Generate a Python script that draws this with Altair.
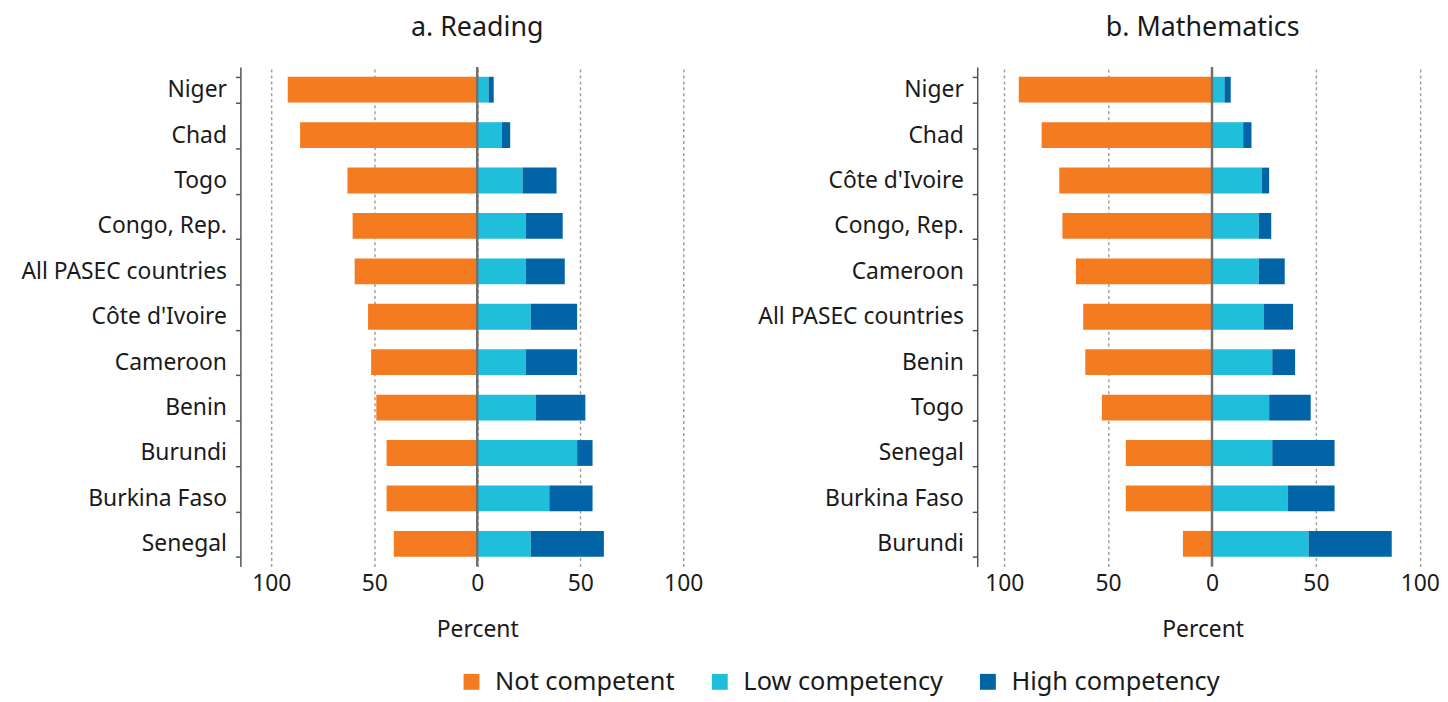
import altair as alt
import pandas as pd

levels = ["Not competent", "Low competency", "High competency"]
colors = ["#F47B20", "#1FBFDB", "#0064A6"]

reading_countries = ["Niger", "Chad", "Togo", "Congo, Rep.", "All PASEC countries",
                     "Côte d'Ivoire", "Cameroon", "Benin", "Burundi", "Burkina Faso", "Senegal"]
reading_not = [92, 86, 63, 60.5, 59.5, 53, 51.5, 49, 44, 44, 40.5]
reading_low = [5.5, 12, 22, 23.5, 23.5, 26, 23.5, 28.5, 48.5, 35, 26]
reading_high = [2.5, 4, 16.5, 18, 19, 22.5, 25, 24, 7.5, 21, 35.5]

math_countries = ["Niger", "Chad", "Côte d'Ivoire", "Congo, Rep.", "Cameroon",
                  "All PASEC countries", "Benin", "Togo", "Senegal", "Burkina Faso", "Burundi"]
math_not = [93, 82, 73.5, 72, 65.5, 62, 61, 53, 41.5, 41.5, 14]
math_low = [6, 15, 24, 22.5, 22.5, 25, 29, 27.5, 29, 36.5, 46.5]
math_high = [3, 4, 3.5, 6, 12.5, 14, 11, 20, 30, 22.5, 40]


def long_table(countries, nots, lows, highs):
    rows = []
    for c, n, l, h in zip(countries, nots, lows, highs):
        rows.append({"country": c, "level": levels[0], "value": -n, "ord": 0})
        rows.append({"country": c, "level": levels[1], "value": l, "ord": 1})
        rows.append({"country": c, "level": levels[2], "value": h, "ord": 2})
    return pd.DataFrame(rows)


FONT = "Noto Sans"
TXT = "#1a1a1a"
FS = 23


def panel(title, countries, nots, lows, highs, domain, width):
    df = long_table(countries, nots, lows, highs)
    bars = alt.Chart(df).mark_bar(size=26).encode(
        x=alt.X("value:Q", stack="zero",
                scale=alt.Scale(domain=domain, nice=False, zero=False),
                axis=alt.Axis(values=[-100, -50, 0, 50, 100], labelExpr="abs(datum.value)",
                              title="Percent", titleFontSize=FS, titleFont=FONT,
                              titleFontWeight="normal", titleColor=TXT, titlePadding=23,
                              labelFontSize=FS, labelFont=FONT, labelColor=TXT, labelPadding=6,
                              domain=False, ticks=False, grid=True, gridDash=[3, 3],
                              gridColor="#a0a0a0", gridWidth=1.5)),
        y=alt.Y("country:N", sort=countries,
                scale=alt.Scale(paddingInner=0.42, paddingOuter=0.21),
                axis=alt.Axis(title=None, labelFontSize=FS, labelFont=FONT, labelColor=TXT,
                              labelLimit=400,
                              labelPadding=9, tickBand="extent", tickSize=5, tickColor="#555",
                              tickWidth=1.5, domainColor="#555", domainWidth=1.5, grid=False)),
        color=alt.Color("level:N", scale=alt.Scale(domain=levels, range=colors),
                        legend=alt.Legend(title=None, orient="none", direction="horizontal",
                                          legendX=220, legendY=606, symbolType="square",
                                          symbolSize=256, symbolStrokeWidth=0,
                                          labelFontSize=25.5, labelFont=FONT, labelColor=TXT,
                                          labelLimit=400, labelOffset=11, columnPadding=32)),
        order=alt.Order("ord:Q"),
    )
    zero = alt.Chart(pd.DataFrame({"z": [0]})).mark_rule(color="#707070", strokeWidth=2.5).encode(
        x=alt.X("z:Q")
    )
    return alt.layer(bars, zero).properties(
        width=width, height=503,
        title=alt.TitleParams(title, fontSize=27, font=FONT, fontWeight="normal",
                              color=TXT, anchor="middle", offset=14),
    )


left = panel("a. Reading", reading_countries, reading_not, reading_low, reading_high, [-115, 115], 477)
right = panel("b. Mathematics", math_countries, math_not, math_low, math_high, [-113, 104], 454)

chart = alt.hconcat(left, right, spacing=43).configure_view(stroke=None).properties(
    padding={"left": 12, "top": 4, "right": 0, "bottom": 0}
)

chart.save("out.html", embed_options={"renderer": "svg", "actions": False})
